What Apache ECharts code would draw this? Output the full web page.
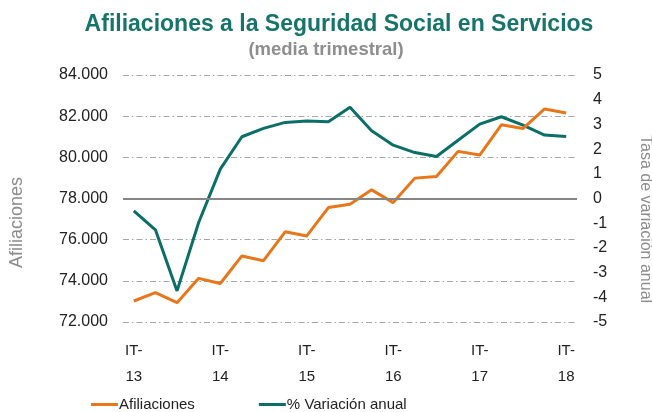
<!DOCTYPE html>
<html>
<head>
<meta charset="utf-8">
<script src="https://cdn.jsdelivr.net/npm/echarts@6/dist/echarts.min.js"></script>
<style>
  html, body { margin: 0; padding: 0; background: #fff; }
  #chart { width: 652px; height: 412px; }
</style>
</head>
<body>
<div id="chart"></div>
<script>
// trimestres IT-13 ... IT-18
const categories = [
  'IT-13', 'IIT-13', 'IIIT-13', 'IVT-13',
  'IT-14', 'IIT-14', 'IIIT-14', 'IVT-14',
  'IT-15', 'IIT-15', 'IIIT-15', 'IVT-15',
  'IT-16', 'IIT-16', 'IIIT-16', 'IVT-16',
  'IT-17', 'IIT-17', 'IIIT-17', 'IVT-17',
  'IT-18'
];
const afiliaciones = [
  73020, 73430, 72940, 74120, 73870, 75210, 74980, 76380, 76180, 77560,
  77720, 78420, 77800, 78990, 79070, 80290, 80110, 81580, 81400, 82350, 82150
];
const variacionAnual = [
  -0.5, -1.27, -3.74, -0.97, 1.19, 2.5, 2.84, 3.08, 3.14, 3.11,
  3.69, 2.74, 2.16, 1.86, 1.7, 2.36, 3.01, 3.31, 2.97, 2.57, 2.51
];
const leftTicks = { min: 72000, max: 84000, interval: 2000 };
const rightTicks = { min: -5, max: 5, interval: 1 };

const ORANGE = '#E8761B';
const TEAL = '#0B6F68';
const FONT = 'Liberation Sans';

const myChart = echarts.init(document.getElementById('chart'));
const option = {
  animation: false,
  textStyle: { fontFamily: FONT },
  title: [
    {
      text: 'Afiliaciones a la Seguridad Social en Servicios',
      left: 334, top: 8, textAlign: 'center',
      textStyle: { color: '#16746B', fontSize: 23, fontWeight: 'bold', fontFamily: FONT }
    },
    {
      text: '(media trimestral)',
      left: 321, top: 35, textAlign: 'center',
      textStyle: { color: '#8E8E8E', fontSize: 18.5, fontWeight: 'bold', fontFamily: FONT }
    }
  ],
  graphic: [
    {
      type: 'text', left: 8, top: 177, rotation: Math.PI / 2,
      style: { text: 'Afiliaciones', fill: '#8C8C8C', font: '18px ' + FONT }
    },
    {
      type: 'text', left: 637, top: 135, rotation: -Math.PI / 2,
      style: { text: 'Tasa de variación anual', fill: '#8C8C8C', font: '16px ' + FONT }
    }
  ],
  grid: { left: 123, right: 75, top: 75, bottom: 90, containLabel: false },
  legend: {
    left: 86, top: 392,
    itemWidth: 27, itemHeight: 3, itemGap: 64,
    icon: 'rect',
    data: ['Afiliaciones', '% Variación anual'],
    textStyle: { fontSize: 15, color: '#222', fontFamily: FONT, padding: [0, 0, 0, -4] }
  },
  xAxis: {
    type: 'category',
    boundaryGap: true,
    data: categories,
    axisLine: { show: false },
    axisTick: { show: false },
    axisLabel: {
      interval: 3,
      margin: 16,
      color: '#222',
      fontSize: 15,
      lineHeight: 26,
      formatter: v => v.replace('-', '-\n')
    }
  },
  yAxis: [
    {
      type: 'value',
      min: leftTicks.min, max: leftTicks.max, interval: leftTicks.interval,
      axisLine: { show: false },
      axisTick: { show: false },
      axisLabel: {
        margin: 15, color: '#222', fontSize: 16,
        formatter: v => String(v).replace(/^(\d\d)(\d{3})$/, '$1.$2')
      },
      splitLine: { lineStyle: { color: '#A6A6A6', width: 1, type: [6, 3, 1.5, 3] } }
    },
    {
      type: 'value',
      min: rightTicks.min, max: rightTicks.max, interval: rightTicks.interval,
      axisLine: { show: false },
      axisTick: { show: false },
      axisLabel: { margin: 16, color: '#222', fontSize: 16 },
      splitLine: { show: false }
    }
  ],
  series: [
    {
      name: 'zero',
      type: 'line',
      yAxisIndex: 1,
      data: [],
      z: 1,
      silent: true,
      markLine: {
        silent: true,
        symbol: 'none',
        label: { show: false },
        lineStyle: { color: '#858585', width: 2, type: 'solid' },
        data: [{ yAxis: 0 }]
      }
    },
    {
      name: '% Variación anual',
      type: 'line',
      yAxisIndex: 1,
      data: variacionAnual,
      showSymbol: false,
      symbol: 'none',
      z: 3,
      itemStyle: { color: TEAL },
      lineStyle: { color: TEAL, width: 3 }
    },
    {
      name: 'Afiliaciones',
      type: 'line',
      yAxisIndex: 0,
      data: afiliaciones,
      showSymbol: false,
      symbol: 'none',
      z: 4,
      itemStyle: { color: ORANGE },
      lineStyle: { color: ORANGE, width: 3 }
    }
  ]
};
myChart.setOption(option);
</script>
</body>
</html>
